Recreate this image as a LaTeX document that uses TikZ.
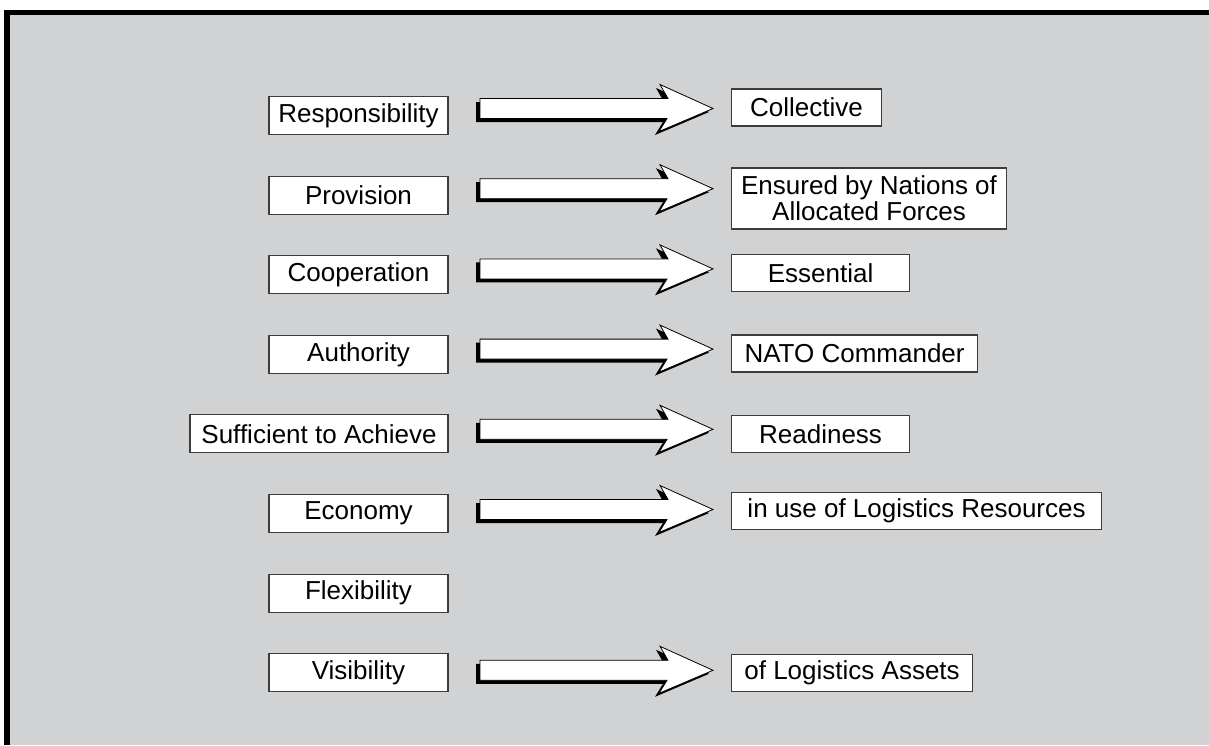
\documentclass[tikz,border=0pt]{standalone}
\usepackage{fontspec}
\setmainfont{Liberation Sans}
\usepackage{tikz}
\definecolor{panel}{RGB}{209,210,212}
\definecolor{rim}{RGB}{60,60,60}
\newcommand{\fatarrow}[1]{
    \fill[shift={(#1)},shift={(-4,3.5)}] (0,-10)--(188,-10)--(180,-24)--(233,0)--(179,23)--(187,10)--(0,10)--cycle;
    \filldraw[shift={(#1)},fill=white,line width=.8pt] (0,-10)--(188,-10)--(180,-24)--(233,0)--(179,23)--(187,10)--(0,10)--cycle;
}
\tikzset{
    labelbox/.style={draw=rim,line width=1.1pt,fill=white,inner sep=0pt,minimum height=38pt,minimum width=179pt,font=\fontsize{26}{26}\selectfont},
    resultbox/.style={labelbox,anchor=west,minimum height=37pt}
}

\begin{document}
\begin{tikzpicture}[x=1pt,y=-1pt]
\useasboundingbox (0,0) rectangle (1209,745);
\fill[white] (0,0) rectangle (1209,745);
\fill[black] (4,10) rectangle (1209,745);
\fill[panel] (10,15) rectangle (1209,745);
% left column
\node[labelbox] (resp) at (358.5,115.5) {Responsibility};
\node[labelbox] (prov) at (358.5,195.1) {Provision};
\node[labelbox] (coop) at (358.5,274.7) {Cooperation};
\node[labelbox] (auth) at (358.5,354.3) {Authority};
\node[labelbox,minimum width=258pt] (suff) at (319,433.9) {Sufficient to Achieve};
\node[labelbox] (econ) at (358.5,513.5) {Economy};
\node[labelbox] (flex) at (358.5,593.1) {Flexibility};
\node[labelbox] (visi) at (358.5,672.7) {Visibility};
% right column
\node[resultbox,minimum width=150pt] (coll) at (731,107.5) {Collective};
\node[resultbox,minimum width=275pt,minimum height=61pt,align=center] (ensu) at (731,198.5) {Ensured by Nations of\\Allocated Forces};
\node[resultbox,minimum width=178pt] (esse) at (731,273) {Essential};
\node[resultbox,minimum width=246pt] (nato) at (731,353.5) {NATO Commander};
\node[resultbox,minimum width=178pt] (read) at (731,434) {Readiness};
\node[resultbox,minimum width=370pt] (inuse) at (731,511) {in use of Logistics Resources};
\node[resultbox,minimum width=241pt] (assets) at (731,673) {of Logistics Assets};
% arrows
\coordinate (a1) at (480,108.5);
\coordinate (a2) at (480,188.7);
\coordinate (a3) at (480,268.9);
\coordinate (a4) at (480,349.1);
\coordinate (a5) at (480,429.3);
\coordinate (a6) at (480,509.5);
\coordinate (a8) at (480,670.3);
\foreach \a in {a1,a2,a3,a4,a5,a6,a8}{\fatarrow{\a}}
\end{tikzpicture}
\end{document}
